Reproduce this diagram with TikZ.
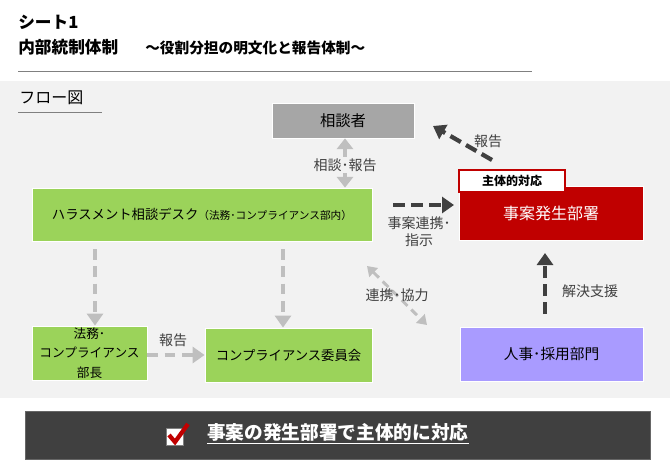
\documentclass[tikz,border=0pt]{standalone}
\usepackage{fontspec}
\setmainfont{Noto Sans CJK JP}
\usetikzlibrary{arrows.meta}
\definecolor{bgpanel}{HTML}{F2F2F2}
\definecolor{grn}{HTML}{9BD35A}
\definecolor{grybox}{HTML}{A6A6A6}
\definecolor{redbox}{HTML}{C00000}
\definecolor{purp}{HTML}{A99BFF}
\definecolor{darkar}{HTML}{404040}
\definecolor{lightar}{HTML}{BFBFBF}
\definecolor{lbl}{HTML}{404040}
\definecolor{bar}{HTML}{404040}
\tikzset{
  x=0.75pt, y=-0.75pt,
  box/.style={draw=white, line width=0.6pt, inner sep=0pt, font=\fontsize{10}{12}\selectfont, text=black, align=center},
  darkarrow/.style={draw=darkar, line width=3.2pt, dash pattern=on 9pt off 4.5pt, -{Triangle[length=9pt,width=12pt]}},
  lightarrow/.style={draw=lightar, line width=3.2pt, dash pattern=on 8pt off 5pt, -{Triangle[length=9pt,width=12pt]}},
  lbltext/.style={text=lbl, font=\fontsize{10.5}{13}\selectfont, inner sep=1pt, align=center},
}
\begin{document}
\begin{tikzpicture}
\useasboundingbox (0,0) rectangle (670,474);
\fill[white] (0,0) rectangle (670,474);
% title
\node[anchor=west, inner sep=0pt, font=\fontsize{12.5}{14}\selectfont\bfseries] (t1) at (18,22) {シート1};
\node[anchor=west, inner sep=0pt, font=\fontsize{12.5}{14}\selectfont\bfseries] (t2) at (18,47) {内部統制体制};
\node[anchor=west, inner sep=0pt, font=\fontsize{11}{13}\selectfont\bfseries] (t3) at (145,48) {～役割分担の明文化と報告体制～};
\draw[gray, line width=0.6pt] (18,71) -- (532,71);
% panel
\fill[bgpanel] (0,81) rectangle (670,398);
\node[anchor=west, inner sep=0pt, font=\fontsize{12}{14}\selectfont] (flow) at (19,98) {フロー図};
\draw[gray, line width=0.6pt] (18,112) -- (102,112);
% nodes
\node[box, fill=grybox, minimum width=142*0.75pt, minimum height=35*0.75pt, font=\fontsize{11.5}{13}\selectfont] (sou) at (343,120.5) {相談者};
\node[box, fill=grn, minimum width=340*0.75pt, minimum height=53*0.75pt] (desk) at (202,214.5) {ハラスメント相談デスク{\fontsize{8}{10}\selectfont （法務･コンプライアンス部内）}};
\node[box, fill=redbox, draw=white, text=white, minimum width=184*0.75pt, minimum height=54*0.75pt, font=\fontsize{12}{14}\selectfont] (jian) at (551,213) {事案発生部署};
\node[fill=white, draw=redbox, line width=0.8pt, inner sep=0pt, minimum width=106*0.75pt, minimum height=22*0.75pt, font=\fontsize{9}{11}\selectfont\bfseries] (shutai) at (512,181) {主体的対応};
\node[box, fill=grn, minimum width=115*0.75pt, minimum height=54*0.75pt, font=\fontsize{9.5}{14.5}\selectfont] (bucho) at (89.5,353) {法務･\\コンプライアンス\\部長};
\node[box, fill=grn, minimum width=167*0.75pt, minimum height=54*0.75pt] (iin) at (288.5,355) {コンプライアンス委員会};
\node[box, fill=purp, minimum width=183*0.75pt, minimum height=54*0.75pt, font=\fontsize{11}{13}\selectfont] (jinji) at (551.5,354) {人事･採用部門};
% connectors
\draw[draw=lightar, line width=3.2pt, {Triangle[length=8pt,width=12pt]}-{Triangle[length=8pt,width=12pt]}] (sou.south -| 345,0) -- (desk.north -| 345,0);
\node[lbltext, fill=bgpanel] (l1) at (345,165) {相談･報告};
\coordinate (a1s) at (393,205);
\coordinate (a1e) at (454,205);
\draw[darkarrow] (a1s) -- (a1e);
\node[lbltext] (l2) at (419,232) {事案連携･\\指示};
\coordinate (a2s) at (492,160);
\coordinate (a2e) at (433,126);
\draw[darkarrow] (a2s) -- (a2e);
\node[lbltext] (l3) at (488,141) {報告};
\draw[lightarrow] (95,249) -- (bucho.north -| 95,0);
\draw[lightarrow] (283,249) -- (iin.north -| 283,0);
\draw[lightarrow] (bucho.east |- 0,355) -- (iin.west |- 0,355);
\node[lbltext] (l4) at (173,340) {報告};
\coordinate (d1) at (367,266);
\coordinate (d2) at (427,325);
\draw[draw=lightar, line width=2.2pt, dash pattern=on 6pt off 4pt, {Triangle[length=7pt,width=9pt]}-{Triangle[length=7pt,width=9pt]}] (d1) -- (d2);
\node[lbltext] (l5) at (397,295) {連携･協力};
\coordinate (u1) at (545,314);
\draw[darkarrow] (u1) -- (545,253);
\node[lbltext] (l6) at (590,291) {解決支援};
% bottom bar
\node[fill=bar, draw=black!60, line width=0.5pt, minimum width=625*0.75pt, minimum height=48*0.75pt, inner sep=0pt] (barn) at (337.5,435) {};
\fill[white, draw=gray, line width=0.5pt] (166,428) rectangle (183,445);
\draw[redbox, line width=3.2pt] (169,435) -- (175,442) -- (188,424);
\node[anchor=west, text=white, inner sep=0pt, font=\fontsize{14}{16}\selectfont\bfseries] (msg) at (207,434) {\underline{事案の発生部署で主体的に対応}};
\end{tikzpicture}
\end{document}
